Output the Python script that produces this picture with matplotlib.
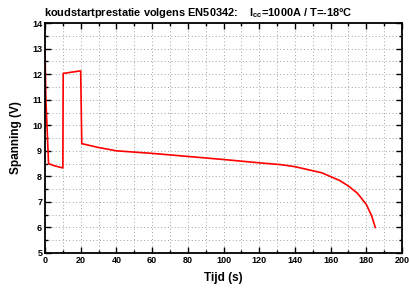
import matplotlib
matplotlib.use("Agg")
import matplotlib.pyplot as plt
from matplotlib.ticker import MultipleLocator

plt.rcParams['font.family'] = ['Liberation Sans', 'DejaVu Sans']
plt.rcParams['mathtext.fontset'] = 'custom'
plt.rcParams['mathtext.bf'] = 'Liberation Sans:bold'

# tijd (s) en spanning (V)
tijd = [0, 0.5, 2, 5, 10, 10.2, 20, 20.6, 30, 40, 60, 80, 100, 120, 132,
        140, 150, 155, 160, 165, 170, 175, 180, 183, 185]
spanning = [13.0, 11.0, 8.5, 8.42, 8.33, 12.03, 12.13, 9.28, 9.13, 9.0, 8.9,
            8.78, 8.66, 8.53, 8.46, 8.38, 8.22, 8.14, 7.99, 7.84, 7.62,
            7.34, 6.9, 6.45, 6.0]

fig = plt.figure(figsize=(4.09, 2.91), dpi=100)
ax = fig.add_axes([0.110, 0.1306, 0.873, 0.790])

ax.plot(tijd, spanning, color='#ff0000', lw=1.2)

ax.set_xlim(0, 200)
ax.set_ylim(5, 14)
ax.xaxis.set_major_locator(MultipleLocator(20))
ax.xaxis.set_minor_locator(MultipleLocator(10))
ax.yaxis.set_major_locator(MultipleLocator(1))
ax.yaxis.set_minor_locator(MultipleLocator(0.5))
ax.grid(which='both', linestyle=(0, (1, 2.5)), color='#a0a0a0', lw=0.7)
ax.tick_params(which='both', direction='in', top=True, right=True,
               width=1.0, labelsize=6.5, pad=2)
ax.tick_params(which='major', length=4)
ax.tick_params(which='minor', length=2)
for lab in ax.get_xticklabels() + ax.get_yticklabels():
    lab.set_fontweight('bold')
for s in ax.spines.values():
    s.set_linewidth(1.3)

ax.set_xlabel('Tijd (s)', fontsize=8.5, fontweight='bold', labelpad=5)
ax.set_ylabel('Spanning (V)', fontsize=8.5, fontweight='bold', labelpad=7)
ax.set_title(r'koudstartprestatie volgens EN50342:    I$_{\mathbf{cc}}$=1000A / T=-18°C',
             fontsize=7.9, fontweight='bold', pad=5, x=0.43)

fig.savefig('out.png', dpi=100)
